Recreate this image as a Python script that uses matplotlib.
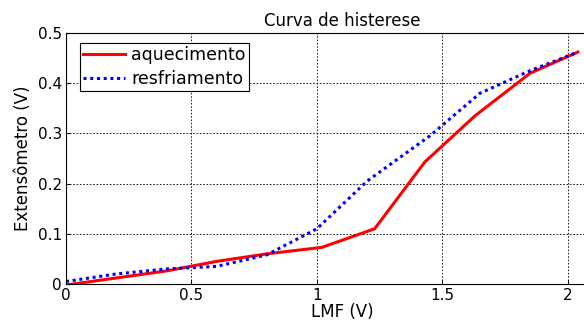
import matplotlib
matplotlib.use('Agg')
import matplotlib.pyplot as plt

# aquecimento (heating)
x_aq = [0.0, 0.2, 0.4, 0.6, 0.8, 1.02, 1.23, 1.43, 1.63, 1.85, 2.04]
y_aq = [-0.002, 0.012, 0.026, 0.045, 0.06, 0.073, 0.11, 0.243, 0.335, 0.42, 0.462]

# resfriamento (cooling)
x_rf = [0.0, 0.2, 0.4, 0.6, 0.8, 1.0, 1.2, 1.45, 1.65, 1.85, 2.04]
y_rf = [0.005, 0.02, 0.03, 0.035, 0.058, 0.11, 0.205, 0.295, 0.38, 0.425, 0.462]

plt.rcParams['font.family'] = ['DejaVu Sans']

fig = plt.figure(figsize=(5.84, 3.2), dpi=100)
ax = fig.add_axes([66/584, 36/320, 552/584, 251/320])

ax.plot(x_aq, y_aq, color='red', lw=2.2, label='aquecimento')
ax.plot(x_rf, y_rf, color='blue', lw=2.2, linestyle=(0, (1, 1.2)), label='resfriamento')

ax.set_xlim(0, 2.2)
ax.set_ylim(0, 0.5)
ax.set_xticks([0, 0.5, 1, 1.5, 2])
ax.set_xticklabels(['0', '0.5', '1', '1.5', '2'])
ax.set_yticks([0, 0.1, 0.2, 0.3, 0.4, 0.5])
ax.set_yticklabels(['0', '0.1', '0.2', '0.3', '0.4', '0.5'])
ax.tick_params(labelsize=11, direction='in', length=3, pad=3)
ax.grid(True, color='black', linestyle=(0, (2, 2)), linewidth=0.6)

ax.set_title('Curva de histerese', fontsize=12, pad=5)
ax.set_xlabel('LMF (V)', fontsize=12, labelpad=0)
ax.set_ylabel('Extensômetro (V)', fontsize=12, labelpad=4)

leg = ax.legend(loc='upper left', bbox_to_anchor=(14/552, 1 - 10/251), borderaxespad=0,
                fancybox=False, framealpha=1, edgecolor='black', fontsize=12.5,
                handlelength=2.4, handletextpad=0.35, labelspacing=0.3, borderpad=0.2)
leg.get_frame().set_linewidth(0.8)

fig.savefig('out.png', dpi=100)
